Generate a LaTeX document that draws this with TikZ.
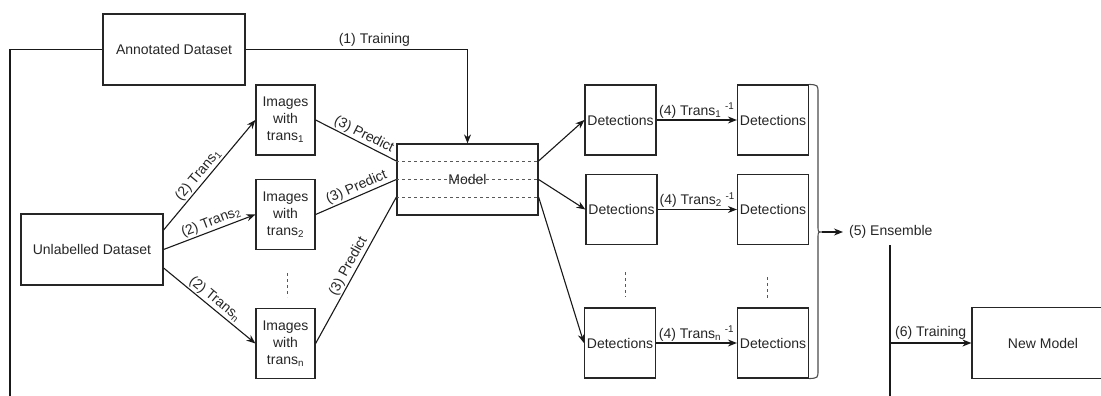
\documentclass[tikz,border=0pt]{standalone}
\usepackage{fontspec}
\setmainfont{Liberation Sans}
\usetikzlibrary{arrows.meta}
\begin{document}
\begin{tikzpicture}[x=1pt,y=-1pt,
  font=\fontsize{14}{17}\selectfont,
  every node/.style={text=black!85},
  box/.style={draw=black!85, line width=1.2pt, inner sep=0pt, align=center},
  bigbox/.style={box, minimum width=142pt, minimum height=71pt},
  detbox/.style={box, minimum width=71pt, minimum height=70pt},
  imgbox/.style={box, minimum width=59pt, minimum height=70pt},
  link/.style={draw=black!90, line width=1.1pt},
  arr/.style={link, -{Stealth[length=9pt,width=7pt]}},
  guide/.style={draw=black!65, line width=0.9pt, dash pattern=on 3pt off 3pt},
  lbl/.style={sloped, above, inner sep=1.5pt},
]
\clip (0,0) rectangle (1101,396);
\fill[white] (0,0) rectangle (1101,396);

% datasets
\node[bigbox] (ann) at (174,49.5) {Annotated Dataset};
\node[bigbox] (unl) at (92,249.5) {Unlabelled Dataset};

% transformed image sets
\node[imgbox] (img1) at (285.5,120) {Images\\with\\trans\textsubscript{1}};
\node[imgbox] (img2) at (285.5,214.5) {Images\\with\\trans\textsubscript{2}};
\node[imgbox] (imgn) at (285.5,343.5) {Images\\with\\trans\textsubscript{n}};

% model with its three prediction lanes
\node[box, minimum width=141pt, minimum height=71pt] (model) at (467.5,179.5) {};
\draw[guide] ([yshift=18.5pt]model.west) -- ([yshift=18.5pt]model.east);
\draw[guide] (model.west) -- (model.east);
\draw[guide] ([yshift=-17.5pt]model.west) -- ([yshift=-17.5pt]model.east);
\node at (model.center) {Model};

% detections, before and after the inverse transformations
\node[detbox] (d11) at (620.5,120) {Detections};
\node[detbox] (d12) at (773,120) {Detections};
\node[detbox] (d21) at (621.5,209.5) {Detections};
\node[detbox] (d22) at (773,209.5) {Detections};
\node[detbox] (dn1) at (620,343) {Detections};
\node[detbox] (dn2) at (773,343) {Detections};

\node[bigbox] (newm) at (1043,343) {New Model};

% (1) training on the annotated data
\coordinate (lcorner) at (10,49.5);
\coordinate (lend) at (10,400);
\draw[link] (ann.west) -- (lcorner) -- (lend);
\draw[arr] (ann.east) -- node[above, pos=0.58, inner sep=3pt] {(1) Training} (model.north |- ann.east) -- (model.north);

% (2) transformations
\draw[arr] ([yshift=19.5pt]unl.east) -- node[lbl, pos=0.45] {(2) Trans\textsubscript{1}} (img1.west);
\draw[arr] (unl.east) -- node[lbl, pos=0.55] {(2) Trans\textsubscript{2}} (img2.west);
\draw[arr] ([yshift=-18.5pt]unl.east) -- node[lbl, pos=0.5] {(2) Trans\textsubscript{n}} (imgn.west);

% (3) predictions
\draw[link] (img1.east) -- node[lbl, pos=0.55] {(3) Predict} ([yshift=18.5pt]model.west);
\draw[link] (img2.east) -- node[lbl, pos=0.55] {(3) Predict} (model.west);
\draw[link] (imgn.east) -- node[lbl, pos=0.5] {(3) Predict} ([yshift=-17.5pt]model.west);

% model outputs
\draw[arr] ([yshift=18.5pt]model.east) -- (d11.west);
\draw[arr] (model.east) -- (d21.west);
\draw[arr] ([yshift=-17.5pt]model.east) -- (dn1.west);

% (4) inverse transformations
\draw[arr] (d11) -- node[above, inner sep=1.5pt] {(4) Trans\textsubscript{1} \textsuperscript{-1}} (d12);
\draw[arr] (d21) -- node[above, inner sep=1.5pt] {(4) Trans\textsubscript{2} \textsuperscript{-1}} (d22);
\draw[arr] (dn1) -- node[above, inner sep=1.5pt] {(4) Trans\textsubscript{n} \textsuperscript{-1}} (dn2);

% ellipsis marks
\draw[guide] (287,273) -- (287,297);
\draw[guide] (625,272) -- (625,297);
\draw[guide] (767,277) -- (767,301);

% (5) ensemble brace
\coordinate (btip) at (822,232);
\draw[draw=black!70, line width=1.1pt] (d12.north east) .. controls (818,85) .. (818,93) -- (818,226)
  .. controls (818,232) .. (btip) .. controls (818,232) .. (818,238) -- (818,370)
  .. controls (818,378) .. (dn2.south east);
\node[anchor=west, inner xsep=6pt] (ens) at (843,232) {(5) Ensemble};
\draw[arr] (btip) -- (ens.west);

% (6) training of the new model
\coordinate (vtop) at (890,245);
\coordinate (vend) at (890,400);
\coordinate (vjoin) at (vtop |- newm.west);
\draw[link] (vtop) -- (vend);
\draw[arr] (vjoin) -- node[above, inner sep=3pt] {(6) Training} (newm.west);
\end{tikzpicture}
\end{document}
